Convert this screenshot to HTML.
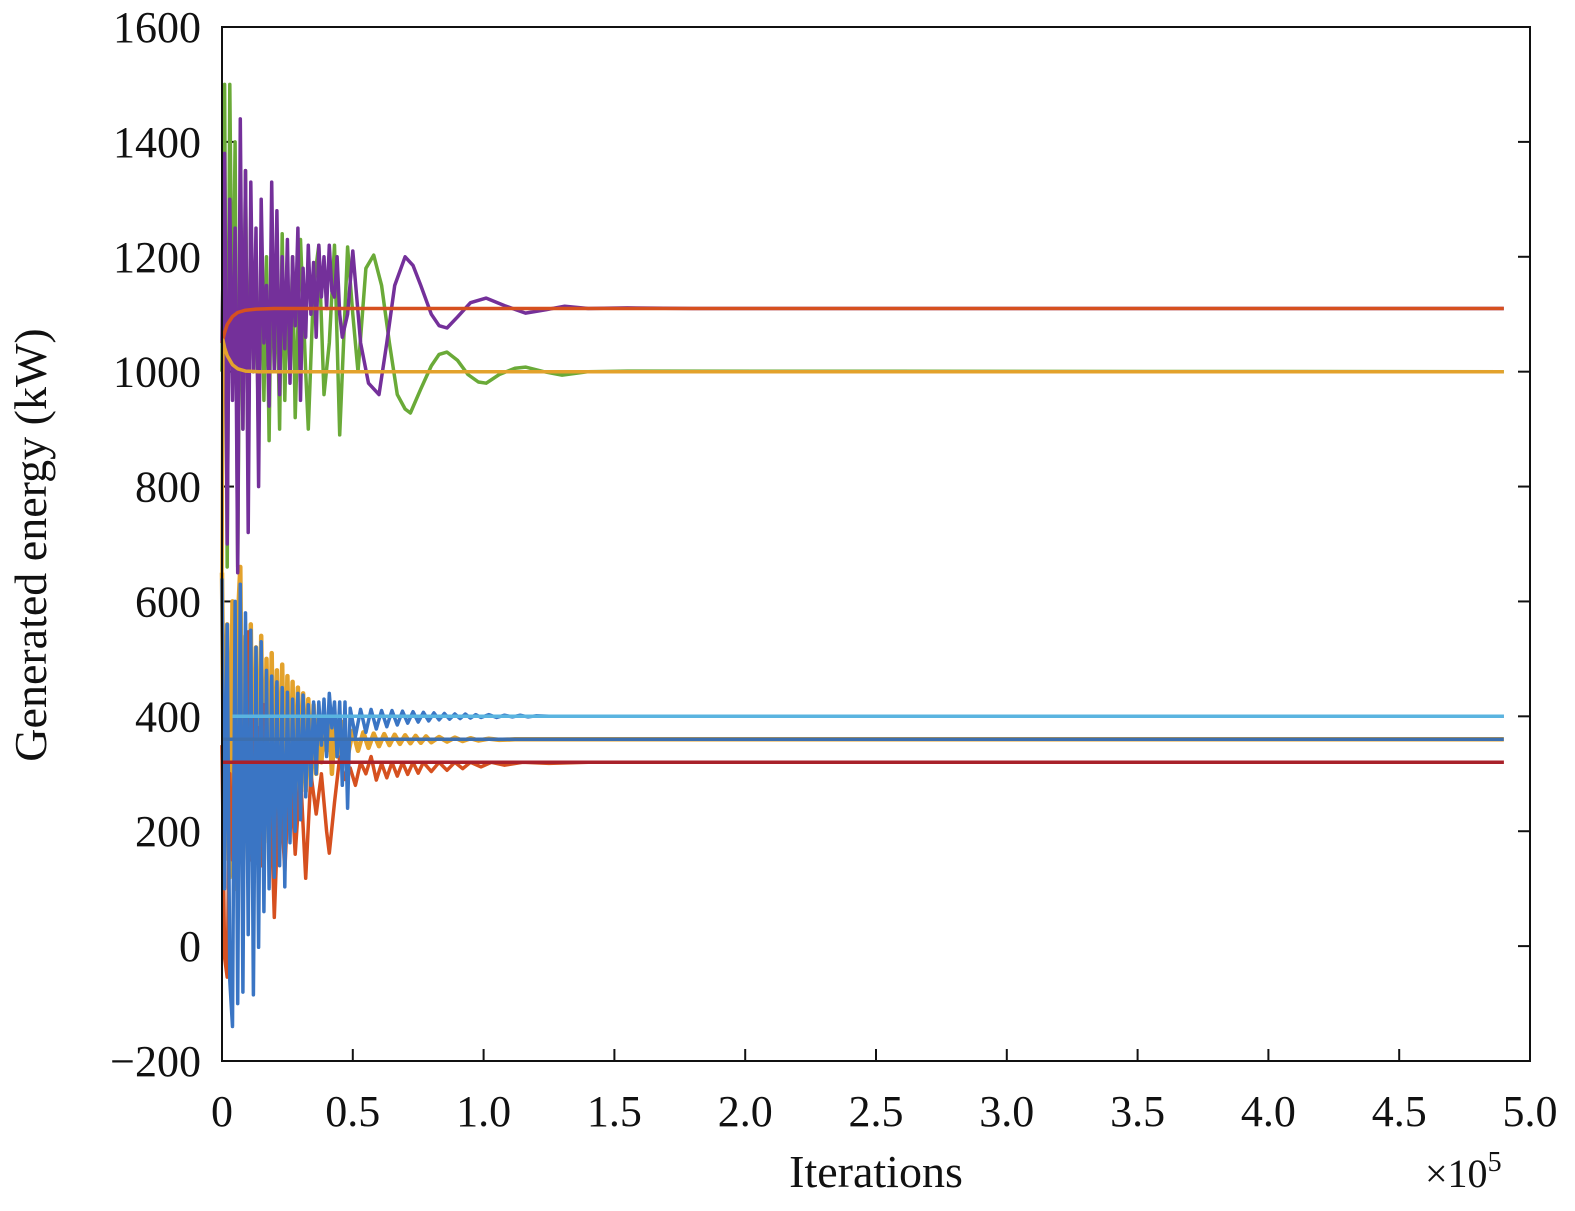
<!DOCTYPE html>
<html><head><meta charset="utf-8"><style>
html,body{margin:0;padding:0;background:#fff}
svg{display:block;font-family:"Liberation Serif",serif}
</style></head><body>
<svg id="chart" width="1575" height="1211" viewBox="0 0 1575 1211">
<g id="ticks"></g>
<g id="series"></g>
<rect x="222" y="27" width="1308" height="1034" fill="none" stroke="#111" stroke-width="2"/>
<text transform="translate(46,545) rotate(-90)" text-anchor="middle" font-size="46" fill="#111">Generated energy (kW)</text>
<text x="876" y="1187" text-anchor="middle" font-size="46" fill="#111">Iterations</text>
<text x="1425" y="1187" font-size="40" fill="#111">×10<tspan font-size="28" dy="-16">5</tspan></text>
</svg>
<script>
const xTicks=[0,0.5,1.0,1.5,2.0,2.5,3.0,3.5,4.0,4.5,5.0];
const xTickLabels=["0","0.5","1.0","1.5","2.0","2.5","3.0","3.5","4.0","4.5","5.0"];
const yTicks=[-200,0,200,400,600,800,1000,1200,1400,1600];
const yTickLabels=["\u2212200","0","200","400","600","800","1000","1200","1400","1600"];

const purple=[[0,1050],[0.01,1380],[0.02,700],[0.03,1300],[0.04,950],[0.05,1250],[0.06,650],[0.07,1440],[0.08,900],[0.09,1350],[0.10,720],[0.11,1330],[0.12,1000],[0.13,1250],[0.14,800],[0.15,1300],[0.16,1050],[0.17,1150],[0.18,940],[0.19,1330],[0.20,1000],[0.21,1280],[0.22,960],[0.23,1200],[0.24,1040],[0.25,1230],[0.26,980],[0.27,1200],[0.28,1080],[0.29,1250],[0.30,950],[0.31,1180],[0.32,1060],[0.33,1220],[0.34,1100],[0.35,1190],[0.36,1060],[0.37,1220],[0.38,1130],[0.39,1200],[0.40,1110],[0.41,1220],[0.42,1140],[0.43,1130],[0.44,1200],[0.45,1100],[0.46,1060],[0.48,1100],[0.50,1210],[0.53,1050],[0.56,980],[0.60,960],[0.63,1050],[0.66,1150],[0.70,1200],[0.73,1185],[0.76,1150],[0.80,1100],[0.83,1080],[0.86,1076],[0.90,1095],[0.95,1120],[1.01,1128],[1.08,1115],[1.16,1102],[1.24,1108],[1.31,1114],[1.40,1110],[1.55,1111],[1.8,1110],[4.9,1110]];
const green=[[0,1000],[0.01,1500],[0.02,660],[0.03,1500],[0.04,1000],[0.05,1400],[0.06,660],[0.07,1300],[0.08,900],[0.09,1350],[0.10,830],[0.11,1280],[0.12,1000],[0.13,1180],[0.14,870],[0.15,1250],[0.16,950],[0.17,1200],[0.18,880],[0.19,1230],[0.20,1000],[0.21,1170],[0.22,900],[0.23,1240],[0.24,950],[0.25,1150],[0.26,1000],[0.27,1200],[0.28,920],[0.30,1230],[0.32,1000],[0.33,900],[0.35,1150],[0.37,1220],[0.39,960],[0.41,1050],[0.43,1220],[0.45,890],[0.48,1217],[0.50,1100],[0.52,1000],[0.55,1180],[0.58,1203],[0.61,1150],[0.64,1050],[0.67,960],[0.70,935],[0.72,928],[0.76,970],[0.80,1010],[0.83,1030],[0.86,1034],[0.90,1020],[0.94,995],[0.98,982],[1.01,980],[1.06,995],[1.12,1006],[1.16,1008],[1.23,1000],[1.30,994],[1.40,1000],[1.55,1001],[4.9,1000]];
const redUpper=[[0,1050],[0.01,1068],[0.02,1082],[0.04,1096],[0.06,1103],[0.09,1107],[0.13,1109],[0.2,1110],[4.9,1110]];
const orangeUpper=[[0,640],[0.004,1055],[0.01,1042],[0.02,1028],[0.04,1012],[0.06,1005],[0.09,1001],[0.14,1000],[4.9,1000]];
const blueLower=[[0,640],[0.01,100],[0.02,560],[0.03,-60],[0.04,-140],[0.05,600],[0.06,-100],[0.07,630],[0.08,-80],[0.09,580],[0.10,20],[0.11,550],[0.12,-85],[0.13,520],[0.14,-2],[0.15,530],[0.16,60],[0.17,480],[0.18,100],[0.19,470],[0.20,120],[0.21,460],[0.22,140],[0.23,450],[0.24,103],[0.25,442],[0.26,180],[0.27,430],[0.28,200],[0.29,440],[0.30,220],[0.31,437],[0.32,260],[0.33,420],[0.34,280],[0.35,425],[0.36,300],[0.37,425],[0.38,350],[0.39,430],[0.40,330],[0.41,440],[0.42,380],[0.43,425],[0.44,330],[0.45,425],[0.46,280],[0.47,425],[0.48,240],[0.49,414],[0.51,365],[0.53,412],[0.55,372],[0.57,412],[0.59,378],[0.61,410],[0.63,382],[0.65,410],[0.67,385],[0.69,409],[0.71,388],[0.73,408],[0.75,390],[0.77,407],[0.79,392],[0.81,406],[0.83,394],[0.85,405],[0.87,395],[0.89,404],[0.91,396],[0.93,404],[0.95,397],[0.97,403],[0.99,398],[1.02,403],[1.05,398],[1.08,402],[1.11,399],[1.14,402],[1.17,399],[1.20,401],[1.25,400],[4.9,400]];
const orangeLower=[[0,650],[0.01,150],[0.02,560],[0.03,120],[0.04,600],[0.05,100],[0.06,560],[0.07,660],[0.08,130],[0.09,540],[0.10,150],[0.11,560],[0.12,120],[0.13,520],[0.14,160],[0.15,540],[0.16,150],[0.17,500],[0.18,180],[0.19,510],[0.20,170],[0.21,480],[0.22,200],[0.23,490],[0.24,210],[0.25,470],[0.26,230],[0.27,460],[0.28,220],[0.29,450],[0.30,250],[0.31,440],[0.32,270],[0.33,430],[0.34,280],[0.35,420],[0.36,300],[0.37,400],[0.38,320],[0.39,390],[0.40,340],[0.41,400],[0.42,300],[0.43,380],[0.44,330],[0.46,390],[0.48,330],[0.50,375],[0.52,340],[0.54,372],[0.56,345],[0.58,370],[0.60,348],[0.62,369],[0.64,350],[0.66,368],[0.68,352],[0.70,367],[0.72,353],[0.74,366],[0.76,354],[0.78,365],[0.80,355],[0.83,364],[0.86,356],[0.89,363],[0.92,357],[0.95,362],[0.98,358],[1.02,361],[1.06,359],[1.12,360],[4.9,360]];
const redLower=[[0,350],[0.01,-20],[0.02,-54],[0.03,300],[0.04,150],[0.05,420],[0.06,100],[0.07,450],[0.08,200],[0.09,300],[0.10,547],[0.11,150],[0.12,400],[0.13,200],[0.14,380],[0.15,140],[0.16,420],[0.17,220],[0.18,350],[0.20,50],[0.22,300],[0.24,130],[0.26,330],[0.28,160],[0.30,300],[0.32,118],[0.34,300],[0.36,230],[0.38,300],[0.40,200],[0.41,162],[0.43,250],[0.45,329],[0.47,290],[0.49,310],[0.51,280],[0.53,320],[0.55,300],[0.57,330],[0.59,289],[0.61,318],[0.63,293],[0.65,320],[0.67,296],[0.69,320],[0.71,299],[0.73,320],[0.75,301],[0.77,320],[0.80,304],[0.83,320],[0.86,306],[0.89,320],[0.92,309],[0.95,320],[0.99,312],[1.03,320],[1.08,315],[1.15,320],[1.25,318],[1.4,320],[4.9,320]];
const flatCyan=[[0.04,400],[4.9,400]];
const flatBlue=[[0,360],[4.9,360]];
const flatRed=[[0,320],[4.9,320]];

const X0=222,X1=1530,Y0=1061,Y1=27;
function sx(v){return X0+(v-0)/(5-0)*(X1-X0);}
function sy(v){return Y0-(v+200)/(1600+200)*(Y0-Y1);}
const NS="http://www.w3.org/2000/svg";
const tg=document.getElementById('ticks');
xTicks.forEach((t,i)=>{
  const l=document.createElementNS(NS,'line');
  
  
  l.setAttribute('x1',sx(t));l.setAttribute('x2',sx(t));l.setAttribute('y1',Y0);l.setAttribute('y2',Y0-12);
  l.setAttribute('stroke','#111');l.setAttribute('stroke-width','2');tg.appendChild(l);
  const tx=document.createElementNS(NS,'text');
  
  
  tx.setAttribute('x',sx(t));tx.setAttribute('y',1126);tx.setAttribute('text-anchor','middle');
  tx.setAttribute('font-size','44');tx.setAttribute('fill','#111');tx.textContent=xTickLabels[i];tg.appendChild(tx);
});
yTicks.forEach((t,i)=>{
  [[X0,X0+12],[X1,X1-12]].forEach(p=>{
    const l=document.createElementNS(NS,'line');
    
    
    l.setAttribute('x1',p[0]);l.setAttribute('x2',p[1]);l.setAttribute('y1',sy(t));l.setAttribute('y2',sy(t));
    l.setAttribute('stroke','#111');l.setAttribute('stroke-width','2');tg.appendChild(l);
  });
  const tx=document.createElementNS(NS,'text');
  
  
  tx.setAttribute('x',201);tx.setAttribute('y',sy(t)+15);tx.setAttribute('text-anchor','end');
  tx.setAttribute('font-size','44');tx.setAttribute('fill','#111');tx.textContent=yTickLabels[i];tg.appendChild(tx);
});
const sg=document.getElementById('series');
function draw(data,color,name,w){
  const p=document.createElementNS(NS,'polyline');
  
  
  p.setAttribute('points',data.map(d=>sx(d[0]).toFixed(1)+','+sy(d[1]).toFixed(1)).join(' '));
  p.setAttribute('fill','none');p.setAttribute('stroke',color);p.setAttribute('stroke-width',w||3);
  p.setAttribute('stroke-linejoin','round');sg.appendChild(p);
}
draw(orangeLower,'#e3a22c','series-orange-lower',4.5);
draw(redLower,'#d6501f','series-red-lower',3.5);
draw(blueLower,'#3a75c4','series-blue-lower',3.5);
draw(green,'#6aaa38','series-green',3.5);
draw(purple,'#74309a','series-purple',3.5);
draw(redUpper,'#d6501f','series-red-upper',3.5);
draw(orangeUpper,'#e3a22c','series-orange-upper',3.5);
draw(flatCyan,'#5ab4e0','series-cyan-flat',3.5);
draw(flatBlue,'#3d6fae','series-blue-flat',3.5);
draw(flatRed,'#a8212b','series-darkred-flat',3.5);
</script>
</body></html>
